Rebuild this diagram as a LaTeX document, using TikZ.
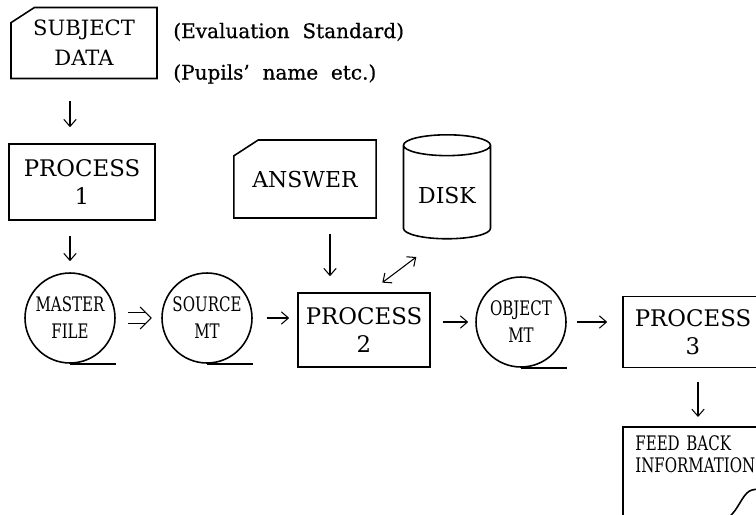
\documentclass[tikz,border=0pt]{standalone}
\usepackage{fontspec}
\usetikzlibrary{shapes.geometric, shapes.misc, arrows.meta}
\setmainfont{DejaVu Serif}
\newfontfamily\narrowfont{DejaVu Serif}[FakeStretch=0.75]
\newfontfamily\notefont{DejaVu Serif}[FakeBold=0.7, Ligatures=TeX]
\tikzset{
  flow/.style={-{Straight Barb[length=4pt, width=7pt]}, line width=0.6pt, shorten <=0.3cm, shorten >=0.22cm}, % thin arrows between the boxes
  proc/.style={draw, line width=0.9pt, align=center, font=\fontsize{13}{16}\selectfont}, % plain process box
  card/.style={chamfered rectangle, chamfered rectangle corners=north west, chamfered rectangle angle=57, draw, line width=0.9pt, align=center}, % punched card
  tape/.style={circle, draw, line width=0.9pt, minimum size=1.8cm, inner sep=0pt, align=center, font=\narrowfont\fontsize{11.4}{15.4}\selectfont}, % magnetic tape
  note/.style={anchor=west, inner xsep=0pt, font=\notefont\fontsize{11.4}{13}\selectfont}, % remarks beside the data card
}

\begin{document}
\begin{tikzpicture}[x=0.02cm, y=-0.02cm]
  \useasboundingbox (0,0) rectangle (756,514);
  \clip (0,0) rectangle (756,514);

  \node[card, minimum width=2.92cm, minimum height=1.42cm, inner ysep=0pt, chamfered rectangle xsep=0.28cm, font=\fontsize{12}{17}\selectfont] (SUBJ_DATA) at (84,43) {SUBJECT\\DATA};
  \node[note] (STD_NOTE) at (173,32) {(Evaluation\ \ Standard)};
  \node[note] (NAME_NOTE) at (173,74) {(Pupils’\ \ name\ \ etc.)};
  \node[proc, minimum width=2.92cm, minimum height=1.52cm] (PROC_1) at (82,182) {PROCESS\\1};
  \node[tape] (MASTER_FILE) at (70,318) {MASTER\\FILE};
  \node[tape] (SOURCE_MT) at (207,318) {SOURCE\\MT};
  \node[proc, minimum width=2.64cm, minimum height=1.48cm] (PROC_2) at (364,330) {PROCESS\\2};
  \node[card, minimum width=2.6cm, minimum height=1.56cm, inner xsep=2pt, chamfered rectangle xsep=0.3cm, font=\fontsize{12.5}{16}\selectfont] (ANSWER) at (305,179) {ANSWER};
  \node[cylinder, shape border rotate=90, aspect=0.3, draw, line width=0.9pt, minimum height=2.08cm, minimum width=1.74cm, font=\fontsize{12.5}{16}\selectfont] (DISK) at (447,195) {DISK};
  \node[tape] (OBJECT_MT) at (521,322) {OBJECT\\MT};
  \node[proc, minimum width=2.8cm, minimum height=1.42cm] (PROC_3) at (693,332) {PROCESS\\3};
  \node[anchor=north west, align=left, text width=2.6cm, inner xsep=0.24cm, inner ysep=0.16cm, font=\narrowfont\fontsize{11.4}{12.5}\selectfont] (FEED_BACK) at (623,427) {FEED\ BACK\\INFORMATION};

  % tape tails
  \foreach \t in {MASTER_FILE, SOURCE_MT, OBJECT_MT}
    \draw[line width=0.9pt] (\t.south) -- ++(0.92cm,0);

  % document outline
  \draw[line width=0.9pt] (623,530) -- (FEED_BACK.north west) -- (FEED_BACK.north east) -- ++(0,70)
    .. controls (768,489) and (760,488) .. (752,490) .. controls (744,492) and (740,505) .. (733,513)
    .. controls (715,535) and (650,540) .. (623,530);

  \draw[flow, shorten <=0.44cm, shorten >=0.32cm] (SUBJ_DATA.south -| MASTER_FILE) -- (PROC_1.north -| MASTER_FILE);
  \draw[flow] (PROC_1.south -| MASTER_FILE) -- (MASTER_FILE);
  % double arrow, head drawn by hand
  \coordinate (DBL_TIP) at ([xshift=-0.2cm]SOURCE_MT.west);
  \draw[line width=0.6pt, double, double distance=5.4pt] ([xshift=0.24cm]MASTER_FILE.east) -- ([xshift=-2.7pt]DBL_TIP);
  \draw[line width=0.6pt, line join=round] ([shift={(-6.3pt,6.3pt)}]DBL_TIP) -- (DBL_TIP) -- ([shift={(-6.3pt,-6.3pt)}]DBL_TIP);
  \draw[flow, shorten <=0.28cm, shorten >=0.16cm] (SOURCE_MT) -- (SOURCE_MT -| PROC_2.west);
  \draw[flow, shorten <=0.24cm, shorten >=0.14cm] (PROC_2.east |- OBJECT_MT) -- (OBJECT_MT);
  \draw[flow, shorten <=0.2cm, shorten >=0.3cm] (OBJECT_MT) -- (OBJECT_MT -| PROC_3.west);
  \draw[flow, shorten <=0.28cm, shorten >=0.2cm] ([xshift=0.1cm]PROC_3.south) -- ([xshift=0.1cm]PROC_3.south |- FEED_BACK.north);
  \draw[flow, shorten <=0.3cm, shorten >=0.32cm] ([xshift=0.5cm]ANSWER.south) -- ([xshift=0.5cm]ANSWER.south |- PROC_2.north);
  \draw[flow, {Straight Barb[length=4pt, width=7pt]}-{Straight Barb[length=4pt, width=7pt]}, shorten <=0.32cm, shorten >=0.58cm] ([xshift=0.11cm]PROC_2.north) -- ([xshift=-0.15cm]DISK.south);
\end{tikzpicture}
\end{document}
